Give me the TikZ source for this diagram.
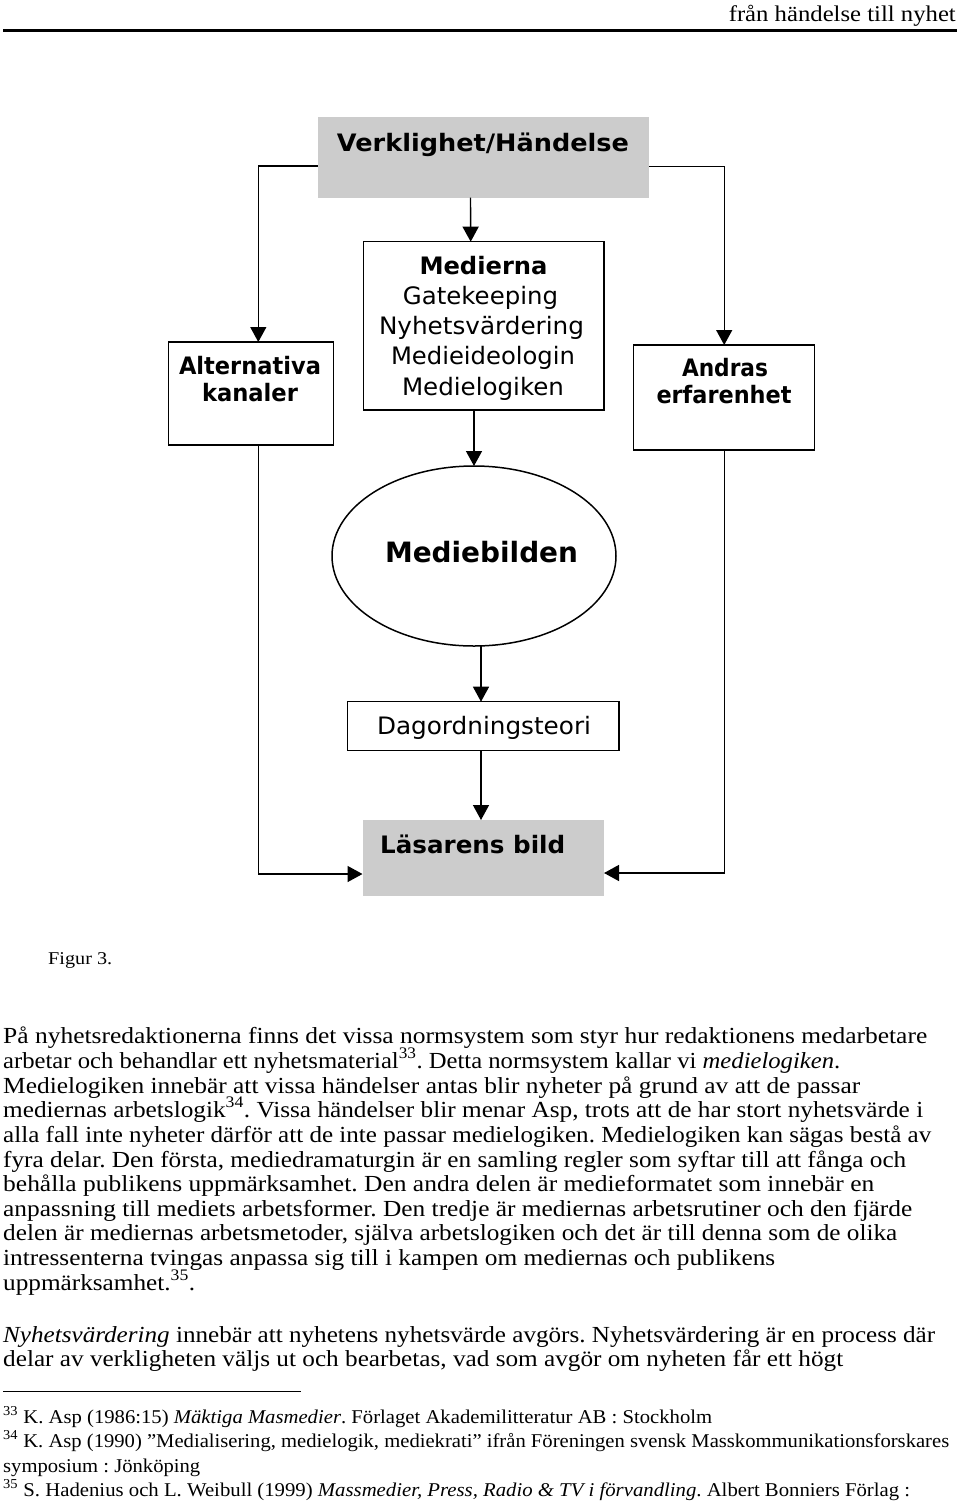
\documentclass[tikz,border=0pt]{standalone}
\usepackage{fontspec}
\usepackage{graphicx}
\setmainfont{Liberation Serif}
\newfontfamily\dv{DejaVu Sans}
\usetikzlibrary{arrows.meta,shapes.geometric}
\definecolor{boxgray}{RGB}{204,204,204}
\newcommand\fitw[2]{\resizebox{#1pt}{\height}{#2}}
\frenchspacing
\begin{document}
\begin{tikzpicture}[x=1pt,y=-1pt,
  box/.style={draw,line width=1.5pt,inner sep=0pt,outer sep=0pt},
  graybox/.style={fill=boxgray,inner sep=0pt,outer sep=0pt},
  conn/.style={line width=1.4pt,-{Triangle[width=16pt,length=15pt]}},
  dtext/.style={anchor=base,inner sep=0pt,font=\dv\fontsize{24}{28}\selectfont},
  dbold/.style={anchor=base,inner sep=0pt,font=\dv\bfseries\fontsize{24}{28}\selectfont},
  body/.style={anchor=base west,inner sep=0pt,font=\fontsize{23}{27}\selectfont},
  foot/.style={anchor=base west,inner sep=0pt,font=\fontsize{19.5}{24}\selectfont},
]
\fill[white] (0,0) rectangle (960,1502);
\useasboundingbox (0,0) rectangle (960,1502);

% header
\node[anchor=base east,inner sep=0pt,font=\fontsize{22.5}{26}\selectfont] (hdr) at (956,21) {\fitw{227}{från händelse till nyhet}};
\coordinate (ruleL) at (3,30.5);
\coordinate (ruleR) at (957,30.5);
\draw[line width=2.5pt] (ruleL) -- (ruleR);

% diagram boxes
\node[graybox,minimum width=331.8pt,minimum height=80.4pt] (verk) at (483.5,157.5) {};
\node[dbold] (verkT) at (483,151.7) {\fitw{292}{Verklighet/Händelse}};

\node[box,minimum width=240.6pt,minimum height=168.3pt] (med) at (483.7,325.85) {};
\node[dbold] (medT1) at (483.5,274) {\fitw{128}{Medierna}};
\node[dtext] (medT2) at (480.5,304) {\fitw{155}{Gatekeeping}};
\node[dtext] (medT3) at (481.5,334) {\fitw{205}{Nyhetsvärdering}};
\node[dtext] (medT4) at (483,364) {\fitw{184}{Medieideologin}};
\node[dtext] (medT5) at (483,395) {\fitw{162}{Medielogiken}};

\node[box,minimum width=165.2pt,minimum height=103pt] (alt) at (251.1,393.5) {};
\node[dbold] (altT1) at (250,374) {\fitw{142}{Alternativa}};
\node[dbold] (altT2) at (250,401.7) {\fitw{96}{kanaler}};

\node[box,minimum width=181pt,minimum height=105pt] (and) at (724.2,397.5) {};
\node[dbold] (andT1) at (725,376.7) {\fitw{86}{Andras}};
\node[dbold] (andT2) at (724,403) {\fitw{135}{erfarenhet}};

\node[box,ellipse,minimum width=284pt,minimum height=180pt] (ell) at (474,556) {};
\node[anchor=base,inner sep=0pt,font=\dv\bfseries\fontsize{28}{32}\selectfont] (ellT) at (481.5,562.7) {\fitw{193}{Mediebilden}};

\node[box,minimum width=271.3pt,minimum height=49pt] (dag) at (483.35,726.2) {};
\node[dtext] (dagT) at (484,734) {\fitw{214}{Dagordningsteori}};

\node[graybox,minimum width=241.5pt,minimum height=76pt] (las) at (483.25,858) {};
\node[dbold,anchor=base west] (lasT) at (380,853) {\fitw{185}{Läsarens bild}};

% connectors
\draw[conn] ([yshift=-8.5pt]verk.west) -| ([xshift=7.2pt]alt.north);
\draw[conn] ([yshift=-9pt]verk.east) -| (and.north);
\draw[conn] ([xshift=-13pt]verk.south) -- ([xshift=-13pt]med.north);
\draw[conn] (med.south -| ell.north) -- (ell.north);
\draw[conn] ([xshift=7pt]ell.south) -- ([xshift=-2.35pt]dag.north);
\draw[conn] ([xshift=-2.35pt]dag.south) -- ([xshift=-2.25pt]las.north);
\draw[conn] ([xshift=7.2pt]alt.south) |- ([yshift=-16pt]las.west);
\draw[conn] (and.south) |- ([yshift=-15pt]las.east);

% caption
\node[anchor=base west,inner sep=0pt,font=\fontsize{18}{22}\selectfont] (fig) at (48,964) {\fitw{64}{Figur 3.}};

% body text
\node[body] (b1) at (3,1043) {\fitw{924}{På nyhetsredaktionerna finns det vissa normsystem som styr hur redaktionens medarbetare}};
\node[body] (b2) at (3,1068) {\fitw{837}{arbetar och behandlar ett nyhetsmaterial\textsuperscript{33}. Detta normsystem kallar vi \textit{medielogiken}.}};
\node[body] (b3) at (3,1093) {\fitw{857}{Medielogiken innebär att vissa händelser antas blir nyheter på grund av att de passar}};
\node[body] (b4) at (3,1117) {\fitw{920}{mediernas arbetslogik\textsuperscript{34}. Vissa händelser blir menar Asp, trots att de har stort nyhetsvärde i}};
\node[body] (b5) at (3,1142) {\fitw{928}{alla fall inte nyheter därför att de inte passar medielogiken. Medielogiken kan sägas bestå av}};
\node[body] (b6) at (3,1167) {\fitw{903}{fyra delar. Den första, mediedramaturgin är en samling regler som syftar till att fånga och}};
\node[body] (b7) at (3,1191) {\fitw{871}{behålla publikens uppmärksamhet. Den andra delen är medieformatet som innebär en}};
\node[body] (b8) at (3,1216) {\fitw{909}{anpassning till mediets arbetsformer. Den tredje är mediernas arbetsrutiner och den fjärde}};
\node[body] (b9) at (3,1240) {\fitw{894}{delen är mediernas arbetsmetoder, själva arbetslogiken och det är till denna som de olika}};
\node[body] (b10) at (3,1265) {\fitw{772}{intressenterna tvingas anpassa sig till i kampen om mediernas och publikens}};
\node[body] (b11) at (3,1290) {\fitw{192}{uppmärksamhet.\textsuperscript{35}.}};
\node[body] (b12) at (3,1342) {\fitw{932}{\textit{Nyhetsvärdering} innebär att nyhetens nyhetsvärde avgörs. Nyhetsvärdering är en process där}};
\node[body] (b13) at (3,1366) {\fitw{840}{delar av verkligheten väljs ut och bearbetas, vad som avgör om nyheten får ett högt}};

% footnotes
\coordinate (fnL) at (3,1391);
\coordinate (fnR) at (301,1391);
\draw[line width=1pt] (fnL) -- (fnR);
\node[foot] (f1) at (3,1423) {\fitw{709}{\textsuperscript{33} K. Asp (1986:15) \textit{Mäktiga Masmedier}. Förlaget Akademilitteratur AB : Stockholm}};
\node[foot] (f2) at (3,1447) {\fitw{946}{\textsuperscript{34} K. Asp (1990) ”Medialisering, medielogik, mediekrati” ifrån Föreningen svensk Masskommunikationsforskares}};
\node[foot] (f3) at (3,1472) {\fitw{197}{symposium : Jönköping}};
\node[foot] (f4) at (3,1496) {\fitw{907}{\textsuperscript{35} S. Hadenius och L. Weibull (1999) \textit{Massmedier, Press, Radio \& TV i förvandling}. Albert Bonniers Förlag :}};
\end{tikzpicture}
\end{document}
